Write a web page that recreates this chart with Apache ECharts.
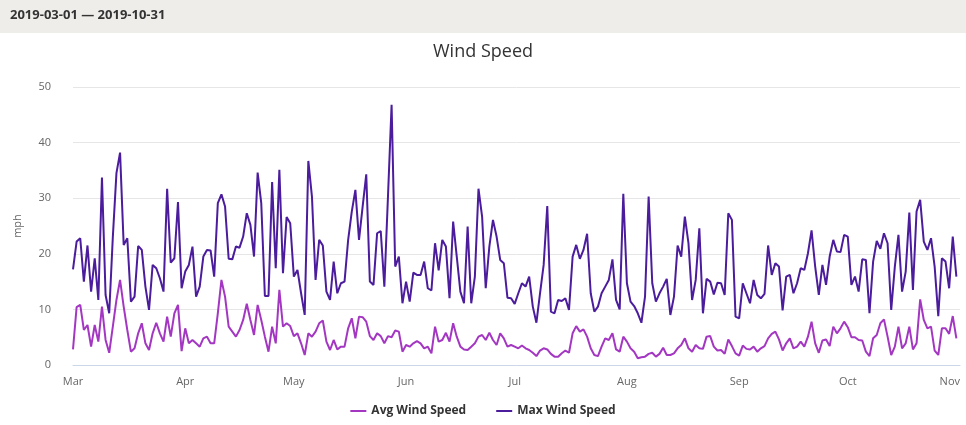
<!DOCTYPE html>
<html>
<head>
<meta charset="utf-8">
<script src="https://cdn.jsdelivr.net/npm/echarts@6/dist/echarts.min.js"></script>
<style>
  html, body { margin: 0; padding: 0; background: #fff; }
  #chart { width: 966px; height: 425px; }
</style>
</head>
<body>
<div id="chart"></div>
<script>
// date range of the data
const startDate = '2019-03-01'
const axisEndDate = '2019-11-01'
const dateRangeLabel = '2019-03-01 — 2019-10-31'

// month tick labels
const monthNames = ['Jan', 'Feb', 'Mar', 'Apr', 'May', 'Jun', 'Jul', 'Aug', 'Sep', 'Oct', 'Nov', 'Dec']

// daily values, mph (Mar 1 .. Oct 31)
const avgMar = [2.8, 10.4, 10.8, 6.3, 7.2, 3.3, 7.2, 4.2, 10.5, 4.5, 2.2, 6.9, 11.7, 15.3, 10.5, 6.3, 2.4, 3, 5.7, 7.5, 3.9, 2.7, 5.7, 7.6, 5.7, 4.2, 8.7, 5.1, 9.3, 10.8, 2.5]
const avgApr = [6.6, 3.9, 4.5, 3.9, 3.3, 4.8, 5.1, 3.9, 3.9, 9.3, 15.3, 12.3, 6.9, 6, 5.1, 6.3, 8.1, 11, 8.1, 5.4, 10.8, 8.1, 5.1, 2.4, 6.9, 3.9, 13.5, 6.9, 7.5, 7]
const avgMay = [5.2, 5.7, 3.9, 1.8, 5.7, 5.1, 6, 7.5, 8, 4.2, 2.7, 4.5, 2.8, 3.3, 3.3, 6.6, 8.4, 4.8, 8.7, 8.6, 7.8, 5.2, 4.5, 5.7, 5.2, 3.9, 5.2, 5, 6.2, 6, 2.4]
const avgJun = [3.6, 3.3, 3.9, 4.3, 3.9, 3, 3.3, 2.1, 6.9, 4.2, 4.5, 5.8, 4.2, 7.5, 5.1, 3.3, 2.8, 2.7, 3.3, 3.9, 5.1, 5.4, 4.5, 5.8, 4.5, 3.6, 5.7, 4.8, 3.3, 3.6]
const avgJul = [3.3, 3, 3.5, 3, 2.7, 2.2, 1.6, 2.6, 3, 2.8, 2, 1.5, 1.5, 2.1, 2.6, 2.2, 5.7, 7, 6, 6.4, 5.1, 3, 1.8, 1.6, 3.3, 4.8, 4.5, 5.7, 2.8, 2.4, 5.1]
const avgAug = [4.2, 3, 2.4, 1.2, 1.4, 1.5, 2, 2.2, 1.5, 2, 3.1, 1.8, 1.8, 2.1, 3, 3.6, 4.8, 3, 2.4, 3.6, 3, 2.9, 5.1, 5.2, 3.3, 2.6, 2.7, 2, 4.6, 3.4, 2.1]
const avgSep = [1.7, 3.5, 2.9, 2.8, 3.3, 2.4, 3, 3.4, 4.8, 5.6, 6, 4.6, 2.6, 3.9, 4.8, 3, 3.3, 4.2, 3.3, 5.1, 7.8, 3.9, 2.2, 4.4, 4.6, 3.4, 6.9, 5.7, 6.6, 7.8]
const avgOct = [6.8, 5, 5, 4.5, 4.4, 2.4, 1.6, 4.8, 5.4, 7.5, 8.2, 5.1, 1.8, 3.3, 6.9, 3, 3.9, 6.9, 2.8, 3.9, 11.8, 8.1, 6.6, 6.9, 2.6, 1.8, 6.6, 6.6, 5.6, 8.8, 4.8]

const maxMar = [17.2, 22.2, 22.8, 15, 21.5, 13.2, 19.2, 11.7, 33.7, 12.6, 9.3, 23, 34.5, 38.2, 21.6, 22.8, 11.4, 12.3, 21.4, 20.7, 14.1, 9.9, 18, 17.4, 15.6, 13.2, 31.7, 18.4, 19.2, 29.3, 13.8]
const maxApr = [16.8, 18, 21.3, 12.3, 14.1, 19.5, 20.7, 20.6, 15.9, 29.1, 30.7, 28.5, 19.1, 19, 21.3, 21.1, 23.1, 27.3, 25.2, 19.5, 34.6, 29.1, 12.4, 12.4, 32.9, 17.4, 35.1, 16.5, 26.6, 25.5]
const maxMay = [15.9, 17.1, 12.9, 9, 36.7, 30.3, 15.3, 22.5, 21.5, 13.2, 11.7, 18.6, 12.9, 14.7, 15, 22.5, 27.6, 31.5, 22.5, 28.5, 34.3, 15, 14.4, 23.7, 24.1, 14.1, 30.3, 46.8, 17.7, 19.5, 11.1]
const maxJun = [15, 11.4, 16.6, 16.2, 16.2, 18.6, 13.8, 13.4, 21.9, 17, 22.5, 21.3, 12, 25.8, 19.5, 13.2, 11.1, 24.9, 11.1, 15.9, 31.7, 26.7, 13.8, 21.3, 26.1, 23.1, 18.9, 18.3, 12.1, 12]
const maxJul = [11, 12.9, 14.7, 14.1, 15.9, 10.5, 7.6, 12.9, 18, 28.6, 9.6, 9.3, 11.7, 11.5, 12, 9.9, 19.5, 21.6, 19.1, 20.7, 23.6, 12.9, 9.6, 10.5, 12.9, 14.1, 15.3, 19, 11.7, 10, 30.8]
const maxAug = [14.7, 11.4, 10.6, 9.3, 7.6, 12.3, 30.3, 14.7, 11.4, 12.9, 14.1, 15.5, 9, 12.3, 21.5, 19.5, 26.7, 21.9, 11.7, 15.3, 24.6, 9.3, 15.5, 15, 12.7, 14.8, 14.7, 12.6, 27.3, 26.1, 8.7]
const maxSep = [8.4, 14.7, 12.9, 11.1, 15.3, 12.6, 12, 12.8, 21.5, 16.2, 18.3, 17.7, 9.8, 15.9, 16.2, 12.9, 14.7, 17.4, 17.1, 20.1, 24.2, 17.7, 12.6, 18, 14.4, 19.5, 22.5, 20.4, 20.3, 23.4]
const maxOct = [23.1, 14.4, 15.9, 13.2, 19, 18.9, 9.3, 18.6, 22.3, 20.9, 23.7, 21.9, 9.9, 17.7, 23.4, 13.2, 16.8, 27.4, 13.5, 27.6, 29.7, 22.2, 20.7, 22.8, 17.7, 8.8, 19.2, 18.6, 13.8, 23.1, 15.9]

const avgWind = [].concat(avgMar, avgApr, avgMay, avgJun, avgJul, avgAug, avgSep, avgOct)
const maxWind = [].concat(maxMar, maxApr, maxMay, maxJun, maxJul, maxAug, maxSep, maxOct)

// one category per day, Mar 1 .. Nov 1 (Nov 1 has no data, it only carries the last label)
const DAY = 86400000
const days = []
for (let t = Date.parse(startDate + 'T00:00:00Z'); t <= Date.parse(axisEndDate + 'T00:00:00Z'); t += DAY) {
  days.push(new Date(t).toISOString().slice(0, 10))
}

const font = '"Open Sans", "DejaVu Sans", sans-serif'

const option = {
  animation: false,
  textStyle: { fontFamily: font },
  title: {
    text: 'Wind Speed',
    left: 'center',
    top: 38,
    textStyle: { fontSize: 18, fontWeight: 'normal', color: '#333', fontFamily: font }
  },
  graphic: [
    {
      type: 'rect',
      left: 0, top: 0,
      shape: { width: 966, height: 33 },
      style: { fill: '#eeedea' },
      silent: true
    },
    {
      type: 'text',
      left: 10, top: 9,
      style: {
        text: dateRangeLabel,
        fontSize: 13,
        fontWeight: 'bold',
        fill: '#333',
        fontFamily: font
      }
    }
  ],
  legend: {
    top: 400,
    left: 'center',
    itemWidth: 16,
    itemHeight: 2,
    itemGap: 30,
    icon: 'rect',
    textStyle: { fontSize: 12, fontWeight: 'bold', color: '#333' },
    data: ['Avg Wind Speed', 'Max Wind Speed']
  },
  grid: { left: 73, right: 6, top: 87, bottom: 60, outerBoundsMode: 'none', containLabel: false },
  xAxis: {
    type: 'category',
    data: days,
    boundaryGap: false,
    axisLine: { lineStyle: { color: '#ccd6eb' } },
    axisTick: { show: false },
    splitLine: { show: false },
    axisLabel: {
      interval: (index, value) => value.slice(8) === '01',
      formatter: (value) => monthNames[parseInt(value.slice(5, 7), 10) - 1],
      color: '#666',
      fontSize: 11,
      margin: 11,
      alignMaxLabel: 'right'
    }
  },
  yAxis: {
    type: 'value',
    min: 0,
    max: 50,
    interval: 10,
    name: 'mph',
    nameLocation: 'middle',
    nameGap: 50,
    nameTextStyle: { color: '#666', fontSize: 11 },
    axisLine: { show: false },
    axisTick: { show: false },
    axisLabel: { color: '#666', fontSize: 11, margin: 22 },
    splitLine: { lineStyle: { color: '#e6e6e6' } }
  },
  series: [
    {
      name: 'Avg Wind Speed',
      type: 'line',
      data: avgWind,
      showSymbol: false,
      color: '#a437c2',
      lineStyle: { width: 2 }
    },
    {
      name: 'Max Wind Speed',
      type: 'line',
      data: maxWind,
      showSymbol: false,
      color: '#4b1c9c',
      lineStyle: { width: 2 }
    }
  ]
}

const drawChart = (opt) => {
  const myChart = echarts.init(document.getElementById('chart'))
  myChart.setOption(opt)
}

drawChart(option)
</script>
</body>
</html>
